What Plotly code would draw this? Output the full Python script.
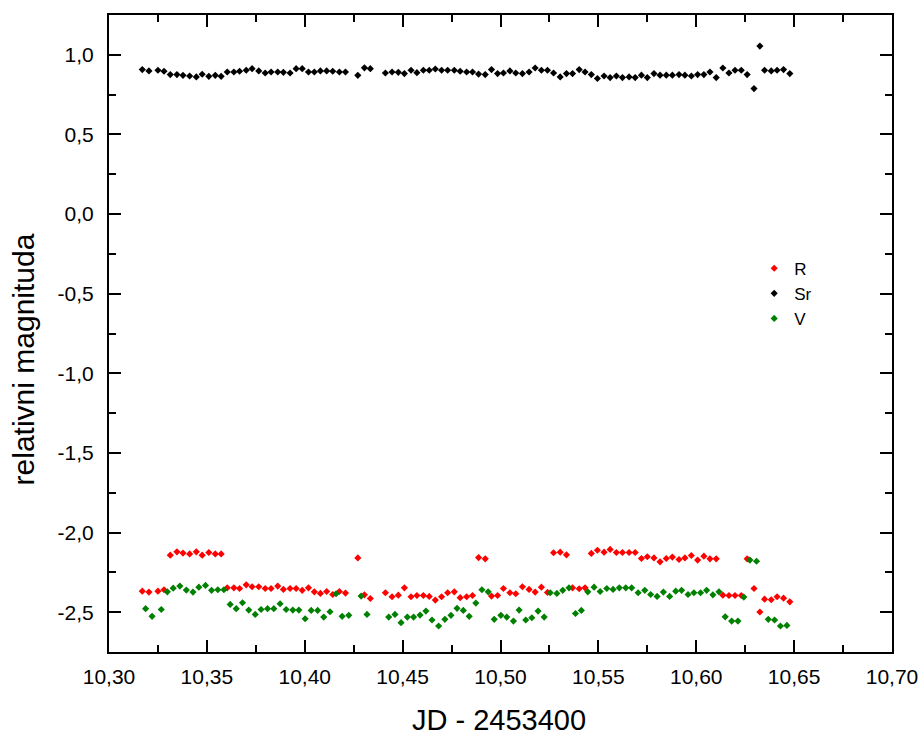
import plotly.graph_objects as go

# ---------------- data ----------------
# Times (JD - 2453400) shared by the R filter and the comparison star (Sr)
r_jd = [10.3170, 10.3204, 10.3250, 10.3281, 10.3313, 10.3347, 10.3378, 10.3412, 10.3446, 10.3476,
        10.3510, 10.3543, 10.3573, 10.3604, 10.3638, 10.3667, 10.3701, 10.3731, 10.3765, 10.3798,
        10.3828, 10.3862, 10.3891, 10.3925, 10.3956, 10.3987, 10.4019, 10.4049, 10.4080, 10.4112,
        10.4143, 10.4177, 10.4208, 10.4271, 10.4305, 10.4335, 10.4412,
        10.4446, 10.4478, 10.4509, 10.4543, 10.4573, 10.4606, 10.4636, 10.4667, 10.4699, 10.4730,
        10.4764, 10.4794, 10.4827, 10.4857, 10.4888, 10.4922, 10.4954, 10.4985, 10.5015, 10.5048,
        10.5078, 10.5112, 10.5146, 10.5177, 10.5209, 10.5240, 10.5271, 10.5305, 10.5337, 10.5368,
        10.5402, 10.5432, 10.5464, 10.5495, 10.5529, 10.5560, 10.5592, 10.5623, 10.5657, 10.5688,
        10.5720, 10.5750,
        10.5784, 10.5815, 10.5847, 10.5878, 10.5912, 10.5942, 10.5975, 10.6007, 10.6039, 10.6070,
        10.6102, 10.6136, 10.6167, 10.6198, 10.6230, 10.6260, 10.6295, 10.6325, 10.6349, 10.6383,
        10.6413, 10.6446, 10.6478]

r_mag = [-2.368, -2.374, -2.368, -2.359, -2.142, -2.121, -2.129, -2.134, -2.121, -2.142,
         -2.125, -2.134, -2.134, -2.347, -2.347, -2.351, -2.328, -2.340, -2.340, -2.351,
         -2.351, -2.336, -2.357, -2.351, -2.351, -2.363, -2.347, -2.372, -2.382, -2.370,
         -2.389, -2.370, -2.380, -2.159, -2.391, -2.414, -2.378,
         -2.403, -2.393, -2.347, -2.403, -2.395, -2.395, -2.401, -2.424, -2.403, -2.378,
         -2.372, -2.409, -2.403, -2.395, -2.157, -2.165, -2.399, -2.395, -2.351, -2.378,
         -2.384, -2.340, -2.357, -2.374, -2.343, -2.376, -2.127, -2.123, -2.140, -2.347,
         -2.353, -2.347, -2.131, -2.111, -2.123, -2.106, -2.125, -2.125, -2.125, -2.125,
         -2.163, -2.152,
         -2.159, -2.184, -2.163, -2.154, -2.169, -2.159, -2.144, -2.173, -2.148, -2.165,
         -2.165, -2.393, -2.395, -2.395, -2.395, -2.165, -2.351, -2.499, -2.418, -2.422,
         -2.403, -2.412, -2.435]

sr_mag = [0.907, 0.899, 0.903, 0.897, 0.876, 0.876, 0.871, 0.867, 0.861, 0.878,
          0.865, 0.871, 0.865, 0.892, 0.892, 0.897, 0.903, 0.913, 0.899, 0.886,
          0.892, 0.892, 0.890, 0.886, 0.913, 0.913, 0.892, 0.892, 0.899, 0.899,
          0.897, 0.892, 0.892, 0.871, 0.918, 0.913, 0.886,
          0.892, 0.890, 0.882, 0.903, 0.888, 0.903, 0.903, 0.911, 0.903, 0.903,
          0.903, 0.897, 0.892, 0.892, 0.879, 0.876, 0.907, 0.882, 0.886, 0.899,
          0.886, 0.882, 0.892, 0.917, 0.903, 0.903, 0.886, 0.861, 0.882, 0.882,
          0.907, 0.892, 0.876, 0.851, 0.867, 0.857, 0.867, 0.857, 0.861, 0.857,
          0.872, 0.857,
          0.882, 0.872, 0.872, 0.872, 0.876, 0.872, 0.867, 0.876, 0.876, 0.892,
          0.857, 0.917, 0.886, 0.903, 0.903, 0.876, 0.788, 1.055, 0.903, 0.899,
          0.903, 0.907, 0.882]

# Times and magnitudes of the V filter
v_jd = [10.3187, 10.3220, 10.3267, 10.3298, 10.3328, 10.3362, 10.3395, 10.3429, 10.3459, 10.3493,
        10.3524, 10.3556, 10.3587, 10.3619, 10.3650, 10.3682, 10.3714, 10.3747, 10.3777, 10.3810,
        10.3842, 10.3874, 10.3905, 10.3939, 10.3970, 10.4002, 10.4033, 10.4066, 10.4097, 10.4129,
        10.4160, 10.4191, 10.4225, 10.4288, 10.4318, 10.4429,
        10.4461, 10.4492, 10.4524, 10.4556, 10.4589, 10.4619, 10.4650, 10.4684, 10.4716, 10.4747,
        10.4778, 10.4810, 10.4840, 10.4874, 10.4905, 10.4937, 10.4968, 10.5002, 10.5032, 10.5066,
        10.5095, 10.5129, 10.5160, 10.5192, 10.5223, 10.5254, 10.5288, 10.5318, 10.5350, 10.5383,
        10.5413, 10.5446, 10.5478, 10.5509, 10.5543, 10.5575, 10.5607, 10.5640, 10.5670, 10.5703,
        10.5737,
        10.5767, 10.5800, 10.5832, 10.5864, 10.5895, 10.5925, 10.5958, 10.5988, 10.6022, 10.6053,
        10.6085, 10.6116, 10.6148, 10.6181, 10.6213, 10.6243, 10.6274, 10.6308, 10.6368, 10.6400,
        10.6430, 10.6463]

v_mag = [-2.478, -2.526, -2.483, -2.372, -2.349, -2.336, -2.361, -2.374, -2.343, -2.332,
         -2.363, -2.359, -2.359, -2.451, -2.478, -2.441, -2.487, -2.514, -2.483, -2.478,
         -2.478, -2.447, -2.483, -2.487, -2.487, -2.541, -2.489, -2.489, -2.531, -2.497,
         -2.384, -2.526, -2.520, -2.399, -2.514, -2.531,
         -2.514, -2.566, -2.531, -2.531, -2.518, -2.493, -2.549, -2.587, -2.545, -2.520,
         -2.476, -2.489, -2.526, -2.443, -2.359, -2.372, -2.545, -2.520, -2.531, -2.556,
         -2.487, -2.549, -2.535, -2.493, -2.531, -2.378, -2.382, -2.363, -2.347, -2.508,
         -2.489, -2.372, -2.343, -2.370, -2.351, -2.357, -2.347, -2.347, -2.347, -2.378,
         -2.363,
         -2.389, -2.401, -2.374, -2.401, -2.368, -2.363, -2.389, -2.378, -2.378, -2.363,
         -2.391, -2.372, -2.529, -2.556, -2.556, -2.405, -2.173, -2.180, -2.545, -2.549,
         -2.587, -2.583]

series_names = ["R", "Sr", "V"]

x_tick_vals = [10.30, 10.35, 10.40, 10.45, 10.50, 10.55, 10.60, 10.65, 10.70]
x_tick_text = ["10,30", "10,35", "10,40", "10,45", "10,50", "10,55", "10,60", "10,65", "10,70"]
y_tick_vals = [-2.5, -2.0, -1.5, -1.0, -0.5, 0.0, 0.5, 1.0]
y_tick_text = ["-2,5", "-2,0", "-1,5", "-1,0", "-0,5", "0,0", "0,5", "1,0"]

x_title = "JD - 2453400"
y_title = "relativni magnituda"

# ---------------- figure ----------------
FONT = "Liberation Sans, Arial, sans-serif"

fig = go.Figure()
fig.add_trace(go.Scatter(x=r_jd, y=r_mag, mode="markers", name=series_names[0],
                         marker=dict(symbol="diamond", size=5.5, color="#FF0000", line=dict(width=0))))
fig.add_trace(go.Scatter(x=r_jd, y=sr_mag, mode="markers", name=series_names[1],
                         marker=dict(symbol="diamond", size=5.5, color="#000000", line=dict(width=0))))
fig.add_trace(go.Scatter(x=v_jd, y=v_mag, mode="markers", name=series_names[2],
                         marker=dict(symbol="diamond", size=5.5, color="#008000", line=dict(width=0))))

axis_common = dict(
    showgrid=False, zeroline=False, automargin=False,
    showline=True, linecolor="black", linewidth=2, mirror="allticks",
    ticks="inside", ticklen=12, tickwidth=2, tickcolor="black",
    tickfont=dict(family=FONT, size=21, color="black"),
)

fig.update_xaxes(range=[10.30, 10.70], tickmode="array", tickvals=x_tick_vals, ticktext=x_tick_text,
                 minor=dict(ticks="inside", ticklen=7, tickwidth=2, tickcolor="black", dtick=0.025,
                            tick0=10.30, showgrid=False),
                 ticklabelstandoff=5, **axis_common)
fig.update_yaxes(range=[-2.75, 1.25], tickmode="array", tickvals=y_tick_vals, ticktext=y_tick_text,
                 minor=dict(ticks="inside", ticklen=7, tickwidth=2, tickcolor="black", dtick=0.25,
                            tick0=0, showgrid=False),
                 ticklabelstandoff=9, **axis_common)

fig.add_annotation(text=x_title, xref="paper", yref="paper", x=0.4985, y=-0.106,
                   xanchor="center", yanchor="middle", showarrow=False,
                   font=dict(family=FONT, size=29, color="black"))
fig.add_annotation(text=y_title, xref="paper", yref="paper", x=-0.108, y=0.46,
                   xanchor="center", yanchor="middle", showarrow=False, textangle=-90,
                   font=dict(family=FONT, size=30, color="black"))

fig.update_layout(
    width=924, height=738,
    margin=dict(l=109, r=32, t=15, b=86),
    paper_bgcolor="white", plot_bgcolor="white",
    font=dict(family=FONT, color="black"),
    showlegend=True,
    legend=dict(x=0.824, y=0.63, xanchor="left", yanchor="top",
                bgcolor="rgba(0,0,0,0)", borderwidth=0,
                font=dict(family=FONT, size=17, color="black")),
)

fig.write_html("out.html", config={"displayModeBar": False},
               post_script="document.body.style.margin='0';document.body.style.overflow='hidden';")
